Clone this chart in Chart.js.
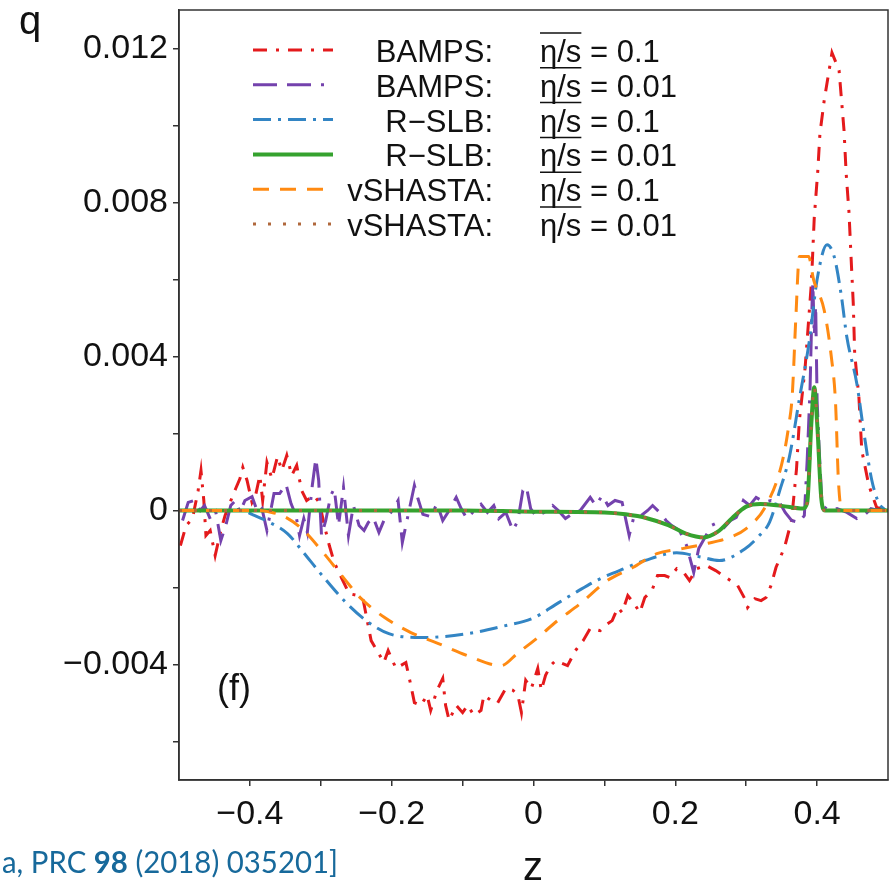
<!DOCTYPE html>
<html>
<head>
<meta charset="utf-8">
<script src="https://cdn.jsdelivr.net/npm/chart.js@4.4.0/dist/chart.umd.min.js"></script>
<style>
  html, body { margin: 0; padding: 0; background: #fff; }
  canvas { display: block; }
</style>
</head>
<body>
<canvas id="qChart" width="892" height="882"></canvas>
<script>
// axis ticks
const xTicks = [-0.4, -0.3, -0.2, -0.1, 0, 0.1, 0.2, 0.3, 0.4];
const xLabeled = [-0.4, -0.2, 0, 0.2, 0.4];
const yTicks = [-0.006, -0.004, -0.002, 0, 0.002, 0.004, 0.006, 0.008, 0.010, 0.012];
const yLabeled = [-0.004, 0, 0.004, 0.008, 0.012];

// legend text
const seriesNames = ["BAMPS:", "BAMPS:", "R\u2212SLB:", "R\u2212SLB:", "vSHASTA:", "vSHASTA:"];
const etaValues = ["0.1", "0.01", "0.1", "0.01", "0.1", "0.01"];
const citation = [["a, PRC ", false], ["98", true], [" (2018) 035201]", false]];

// BAMPS eta/s = 0.1
const zBamps01 = [-0.498, -0.490, -0.481, -0.473, -0.469, -0.465, -0.462, -0.456, -0.449, -0.441,
  -0.435, -0.428, -0.420, -0.414, -0.410, -0.404, -0.397, -0.392, -0.386, -0.382,
  -0.376, -0.369, -0.361, -0.355, -0.348, -0.341, -0.334, -0.327, -0.320, -0.310,
  -0.302, -0.295, -0.288, -0.281, -0.271, -0.260, -0.248, -0.240, -0.234, -0.229,
  -0.219, -0.211, -0.205, -0.194, -0.180, -0.173, -0.168, -0.159, -0.150, -0.145,
  -0.136, -0.128, -0.124, -0.119, -0.109, -0.100, -0.093, -0.084, -0.074, -0.070,
  -0.060, -0.051, -0.039, -0.029, -0.022, -0.017, -0.011, -0.003, 0.006, 0.011,
  0.017, 0.024, 0.031, 0.048, 0.059, 0.070, 0.080, 0.094, 0.101, 0.111,
  0.119, 0.125, 0.133, 0.142, 0.150, 0.157, 0.167, 0.175, 0.185, 0.192,
  0.202, 0.212, 0.220, 0.230, 0.244, 0.257, 0.274, 0.288, 0.298, 0.302,
  0.312, 0.321, 0.328, 0.335, 0.342, 0.354, 0.364, 0.371, 0.375, 0.383,
  0.392, 0.396, 0.401, 0.404, 0.410, 0.421, 0.431, 0.438, 0.441, 0.445,
  0.448, 0.451, 0.453, 0.459, 0.463, 0.473, 0.484, 0.498];
const qBamps01 = [-0.00091, -0.00039, -0.00021, 0.00052, 0.00104, 0.00026, -0.00065, -0.00052, -0.00117, -0.00052,
  -0.00013, 0.00021, 0.00057, 0.00083, 0.00112, 0.00078, 0.00021, 0.00039, 0.00091, 0.00026,
  0.00125, 0.00083, 0.00140, 0.00104, 0.00143, 0.00091, 0.00117, 0.00052, 0.00026, 0.00039,
  0.00021, -0.00039, -0.00091, -0.00135, -0.00174, -0.00216, -0.00221, -0.00234, -0.00291, -0.00338,
  -0.00369, -0.00395, -0.00364, -0.00410, -0.00395, -0.00454, -0.00499, -0.00506, -0.00480, -0.00519,
  -0.00467, -0.00436, -0.00506, -0.00545, -0.00506, -0.00525, -0.00506, -0.00532, -0.00519, -0.00480,
  -0.00493, -0.00501, -0.00462, -0.00467, -0.00480, -0.00525, -0.00441, -0.00462, -0.00410, -0.00467,
  -0.00428, -0.00403, -0.00390, -0.00403, -0.00364, -0.00338, -0.00306, -0.00312, -0.00299, -0.00286,
  -0.00252, -0.00265, -0.00221, -0.00242, -0.00265, -0.00226, -0.00208, -0.00169, -0.00169, -0.00174,
  -0.00151, -0.00161, -0.00182, -0.00151, -0.00143, -0.00156, -0.00177, -0.00195, -0.00229, -0.00252,
  -0.00229, -0.00234, -0.00226, -0.00195, -0.00148, -0.00096, -0.00026, 0.00109, 0.00234, 0.00369,
  0.00592, 0.00761, 0.00883, 0.00979, 0.01065, 0.01189, 0.01143, 0.00987, 0.00875, 0.00774,
  0.00654, 0.00538, 0.00408, 0.00293, 0.00156, 0.00065, 0.00008, 0];

// BAMPS eta/s = 0.01
const zBamps001 = [-0.495, -0.487, -0.479, -0.470, -0.464, -0.455, -0.448, -0.441, -0.434, -0.427,
  -0.420, -0.414, -0.407, -0.397, -0.389, -0.383, -0.376, -0.366, -0.358, -0.349,
  -0.342, -0.335, -0.330, -0.324, -0.319, -0.312, -0.307, -0.303, -0.299, -0.293,
  -0.286, -0.281, -0.275, -0.268, -0.261, -0.254, -0.246, -0.239, -0.233, -0.226,
  -0.218, -0.211, -0.201, -0.191, -0.185, -0.180, -0.174, -0.168, -0.163, -0.156,
  -0.145, -0.136, -0.128, -0.119, -0.109, -0.102, -0.094, -0.086, -0.074, -0.065,
  -0.056, -0.049, -0.039, -0.029, -0.022, -0.015, -0.010, -0.004, 0.004, 0.015,
  0.027, 0.035, 0.045, 0.055, 0.066, 0.080, 0.088, 0.097, 0.105, 0.115,
  0.125, 0.135, 0.142, 0.152, 0.161, 0.168, 0.178, 0.187, 0.195, 0.206,
  0.216, 0.226, 0.233, 0.241, 0.251, 0.260, 0.269, 0.278, 0.286, 0.296,
  0.305, 0.314, 0.326, 0.335, 0.347, 0.355, 0.364, 0.375, 0.382, 0.386,
  0.390, 0.393, 0.394, 0.396, 0.398, 0.400, 0.403, 0.407, 0.417, 0.428,
  0.442, 0.456, 0.466, 0.476, 0.487, 0.498];
const qBamps001 = [-0.00026, 0.00021, 0.00026, 0, 0.00013, -0.00026, -0.00005, -0.00078, -0.00039, 0.00013,
  0.00026, -0.00005, 0.00026, 0.00036, -0.00005, 0.00005, -0.00052, 0.00044, 0.00044, 0.00068,
  0.00018, -0.00013, -0.00065, -0.00021, -0.00057, 0.00065, 0.00135, 0.00078, -0.00065, -0.00026,
  0.00039, 0.00057, -0.00039, 0.00060, -0.00065, 0.00013, -0.00039, -0.00052, -0.00031, -0.00018,
  -0.00057, -0.00026, -0.00005, 0.00026, -0.00083, -0.00039, 0.00013, 0.00065, 0.00031, -0.00010,
  -0.00016, 0.00018, -0.00026, 0, 0.00034, 0.00005, -0.00021, -0.00005, 0.00016, -0.00005,
  0.00013, -0.00021, -0.00005, -0.00052, -0.00026, 0.00052, 0.00062, 0.00005, -0.00016, -0.00005,
  0.00013, 0, -0.00021, -0.00008, 0, 0.00034, 0.00013, 0.00039, 0.00013, 0.00026,
  0.00021, -0.00065, -0.00013, -0.00013, 0, 0.00013, -0.00005, -0.00026, -0.00039, -0.00052,
  -0.00091, -0.00161, -0.00099, -0.00073, -0.00039, -0.00031, -0.00044, -0.00026, -0.00018, 0.00026,
  0.00013, 0.00034, 0.00021, 0.00026, 0.00021, -0.00005, -0.00026, -0.00031, -0.00013, 0.00130,
  0.00312, 0.00545, 0.00590, 0.00454, 0.00532, 0.00286, 0.00156, 0.00013, 0, 0.00005,
  -0.00005, -0.00021, -0.00013, 0.00005, 0, 0];

// R-SLB eta/s = 0.1
const zRslb01 = [-0.5, -0.411, -0.397, -0.373, -0.347, -0.324, -0.302, -0.264, -0.233, -0.204,
  -0.159, -0.093, -0.042, -0.001, 0.035, 0.062, 0.091, 0.129, 0.157, 0.202,
  0.234, 0.262, 0.298, 0.316, 0.333, 0.347, 0.361, 0.375, 0.389, 0.400,
  0.414, 0.424, 0.434, 0.442, 0.456, 0.467, 0.477, 0.487, 0.497];
const qRslb01 = [0, 0, -0.0001, -0.0003, -0.0006, -0.0011, -0.0016, -0.0024, -0.0029, -0.0032,
  -0.0033, -0.0032, -0.0030, -0.0028, -0.0024, -0.0021, -0.0018, -0.0015, -0.0013, -0.0011,
  -0.0012, -0.0013, -0.0010, -0.0007, -0.0003, 0.0005, 0.0014, 0.0029, 0.0044, 0.0060,
  0.0069, 0.0066, 0.0056, 0.0045, 0.0033, 0.0019, 0.0008, 0.0002, 0];

// R-SLB eta/s = 0.01
const zRslb001 = [-0.5, -0.3, -0.1, 0.0, 0.1, 0.13, 0.16, 0.19, 0.215, 0.24,
  0.26, 0.28, 0.30, 0.32, 0.35, 0.38, 0.386, 0.392, 0.396, 0.400,
  0.406, 0.411, 0.5];
const qRslb001 = [0, 0, 0, -0.00003, -0.00005, -0.0001, -0.0002, -0.00038, -0.0006, -0.0007,
  -0.00055, -0.0002, 0.0001, 0.00017, 0.00012, 0.00005, 0.0002, 0.0023, 0.0032, 0.0023,
  0.0003, 0, 0];

// vSHASTA eta/s = 0.1
const zShasta01 = [-0.5, -0.39, -0.369, -0.351, -0.327, -0.299, -0.267, -0.243, -0.21, -0.173,
  -0.135, -0.093, -0.046, -0.022, 0.006, 0.034, 0.066, 0.104, 0.14, 0.174,
  0.21, 0.244, 0.272, 0.30, 0.328, 0.35, 0.36, 0.365, 0.37, 0.375,
  0.388, 0.395, 0.41, 0.42, 0.426, 0.43, 0.435, 0.5];
const qShasta01 = [0, 0, -0.00005, -0.00016, -0.00047, -0.00104, -0.00177, -0.00229, -0.00278, -0.00317,
  -0.00345, -0.00377, -0.00403, -0.0037, -0.0033, -0.00286, -0.00242, -0.00182, -0.00148, -0.00112,
  -0.00099, -0.00086, -0.00073, -0.00047, 0.00013, 0.0012, 0.0022, 0.0030, 0.0050, 0.0066,
  0.0066, 0.0060, 0.0052, 0.0040, 0.0028, 0.0008, 0, 0];

// vSHASTA eta/s = 0.01
const zShasta001 = [-0.5, -0.3, -0.1, 0.0, 0.1, 0.13, 0.16, 0.19, 0.215, 0.24,
  0.26, 0.28, 0.30, 0.32, 0.35, 0.38, 0.386, 0.392, 0.396, 0.400,
  0.406, 0.411, 0.5];
const qShasta001 = [0, 0, 0, -0.00003, -0.00005, -0.0001, -0.0002, -0.00038, -0.0006, -0.0007,
  -0.00055, -0.0002, 0.0001, 0.00017, 0.00012, 0.00005, 0.0002, 0.0023, 0.0032, 0.0023,
  0.0003, 0, 0];

function pts(zs, qs) {
  const n = Math.min(zs.length, qs.length);
  const out = [];
  for (let i = 0; i < n; i++) out.push({ x: zs[i], y: qs[i] });
  return out;
}

function near(list, v) {
  return list.some(t => Math.abs(t - v) < 1e-9);
}

function fmt(v, digits) {
  if (Math.abs(v) < 1e-9) return "0";
  return (v < 0 ? "\u2212" : "") + Math.abs(v).toFixed(digits);
}

const FONT = "'Liberation Sans', Arial, sans-serif";

// frame, legend and extra text
const decorations = {
  id: "decorations",
  afterDraw(chart) {
    const { ctx, chartArea: a } = chart;
    ctx.save();
    ctx.strokeStyle = "#333";
    ctx.lineWidth = 1.5;
    ctx.strokeRect(a.left, a.top, a.right - a.left, a.bottom - a.top);

    // legend
    chart.data.datasets.forEach((ds, i) => {
      const y = 50 + i * 34.8;
      ctx.strokeStyle = ds.borderColor;
      ctx.lineWidth = ds.borderWidth;
      ctx.setLineDash(ds.borderDash || []);
      ctx.beginPath();
      ctx.moveTo(253, y);
      ctx.lineTo(333, y);
      ctx.stroke();
      ctx.setLineDash([]);

      ctx.fillStyle = "#111";
      ctx.font = "31px " + FONT;
      ctx.textBaseline = "alphabetic";
      ctx.textAlign = "right";
      ctx.fillText(seriesNames[i], 493, y + 12);
      ctx.textAlign = "left";
      const eta = "\u03b7/s";
      ctx.fillText(eta, 540, y + 12);
      const w = ctx.measureText(eta).width;
      ctx.fillText(" = " + etaValues[i], 540 + w, y + 12);
      ctx.strokeStyle = "#111";
      ctx.lineWidth = 1.5;
      ctx.beginPath();
      ctx.moveTo(540, y - 17);
      ctx.lineTo(540 + w, y - 17);
      ctx.stroke();
    });

    // axis names and panel tag
    ctx.fillStyle = "#111";
    ctx.textBaseline = "alphabetic";
    ctx.font = "40px " + FONT;
    ctx.textAlign = "left";
    ctx.fillText("q", 19, 34);
    ctx.textAlign = "center";
    ctx.fillText("z", 533, 880);
    ctx.font = "36px " + FONT;
    ctx.textAlign = "left";
    ctx.fillText("(f)", 217, 700);

    // citation
    ctx.fillStyle = "#17699b";
    let total = 0;
    const widths = citation.map(([t, b]) => {
      ctx.font = (b ? "bold " : "") + "30px Lato, sans-serif";
      const w = ctx.measureText(t).width;
      total += w;
      return w;
    });
    const sx = 336 / total;
    ctx.translate(338 - total * sx, 873);
    ctx.scale(sx, 1);
    let x = 0;
    citation.forEach(([t, b], i) => {
      ctx.font = (b ? "bold " : "") + "30px Lato, sans-serif";
      ctx.textAlign = "left";
      ctx.fillText(t, x, 0);
      x += widths[i];
    });
    ctx.restore();
  }
};

const ctx = document.getElementById("qChart").getContext("2d");
new Chart(ctx, {
  type: "line",
  data: {
    datasets: [
      { label: "BAMPS 0.1", data: pts(zBamps01, qBamps01), borderColor: "#e41a1c", borderWidth: 3,
        borderDash: [14, 9, 3, 9], tension: 0, order: 6 },
      { label: "BAMPS 0.01", data: pts(zBamps001, qBamps001), borderColor: "#7442ad", borderWidth: 3,
        borderDash: [24, 10, 24, 10, 3, 10], tension: 0, order: 5 },
      { label: "R-SLB 0.1", data: pts(zRslb01, qRslb01), borderColor: "#3385c4", borderWidth: 3,
        borderDash: [18, 7, 3, 7], cubicInterpolationMode: "monotone", order: 4 },
      { label: "R-SLB 0.01", data: pts(zRslb001, qRslb001), borderColor: "#35a22e", borderWidth: 4,
        borderDash: [], cubicInterpolationMode: "monotone", order: 3 },
      { label: "vSHASTA 0.1", data: pts(zShasta01, qShasta01), borderColor: "#ff8a12", borderWidth: 3,
        borderDash: [16, 11], cubicInterpolationMode: "monotone", order: 2 },
      { label: "vSHASTA 0.01", data: pts(zShasta001, qShasta001), borderColor: "#b0683c", borderWidth: 3,
        borderDash: [3, 12], cubicInterpolationMode: "monotone", order: 1 }
    ]
  },
  options: {
    responsive: false,
    animation: false,
    layout: { padding: { left: 0, right: 4, top: 10, bottom: 0 } },
    elements: { point: { radius: 0 } },
    plugins: { legend: { display: false }, tooltip: { enabled: false } },
    scales: {
      x: {
        type: "linear",
        min: -0.5,
        max: 0.5,
        afterBuildTicks: s => { s.ticks = xTicks.map(v => ({ value: v })); },
        afterFit: s => { s.height = 102; s.paddingLeft = 0; s.paddingRight = 0; },
        ticks: {
          autoSkip: false,
          maxRotation: 0,
          padding: 8,
          color: "#111",
          font: { family: FONT, size: 34 },
          callback: v => near(xLabeled, v) ? fmt(v, 1) : ""
        },
        grid: { drawOnChartArea: false, drawTicks: true, tickLength: 6, color: "#333", lineWidth: 1.5 },
        border: { display: true, color: "#333", width: 1.5 }
      },
      y: {
        type: "linear",
        min: -0.007,
        max: 0.013,
        afterBuildTicks: s => { s.ticks = yTicks.map(v => ({ value: v })); },
        afterFit: s => { s.width = 179; s.paddingTop = 0; s.paddingBottom = 0; },
        ticks: {
          autoSkip: false,
          padding: 5,
          color: "#111",
          font: { family: FONT, size: 34 },
          callback: v => near(yLabeled, v) ? fmt(v, 3) : ""
        },
        grid: { drawOnChartArea: false, drawTicks: true, tickLength: 6, color: "#333", lineWidth: 1.5 },
        border: { display: true, color: "#333", width: 1.5 }
      }
    }
  },
  plugins: [decorations]
});
</script>
</body>
</html>
